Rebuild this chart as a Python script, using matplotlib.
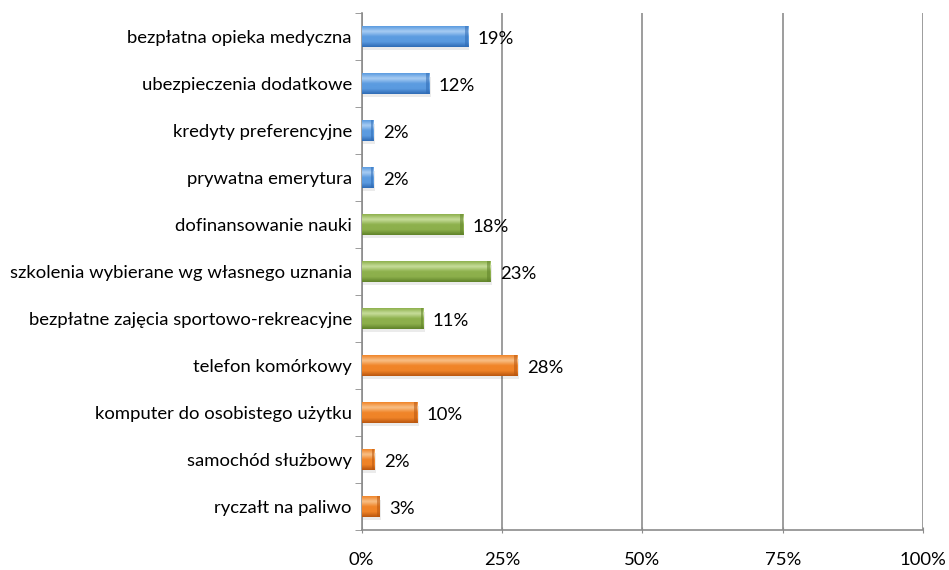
import numpy as np
import matplotlib.pyplot as plt
from matplotlib.colors import LinearSegmentedColormap

plt.rcParams['font.family'] = ['Lato', 'DejaVu Sans']

categories = [
    'bezpłatna opieka medyczna',
    'ubezpieczenia dodatkowe',
    'kredyty preferencyjne',
    'prywatna emerytura',
    'dofinansowanie nauki',
    'szkolenia wybierane wg własnego uznania',
    'bezpłatne zajęcia sportowo-rekreacyjne',
    'telefon komórkowy',
    'komputer do osobistego użytku',
    'samochód służbowy',
    'ryczałt na paliwo',
]
values = [18.9, 12.0, 2.1, 2.1, 18.0, 22.9, 11.0, 27.7, 9.9, 2.3, 3.2]
labels = ['19%', '12%', '2%', '2%', '18%', '23%', '11%', '28%', '10%', '2%', '3%']
groups = ['blue'] * 4 + ['green'] * 3 + ['orange'] * 4

palette = {
    'blue': ('#2f6bb5', '#5b9be0', '#a9cdf3'),
    'green': ('#5f8229', '#8db04c', '#c8de9c'),
    'orange': ('#b9560f', '#f08428', '#f8c189'),
}

fig = plt.figure(figsize=(9.49, 5.70), dpi=100)
ax = fig.add_axes([0.381, 0.0702, 0.592, 0.9070])

y = np.arange(len(categories))
bar_h = 0.43
fs = 13.3

for yi, v, g in zip(y, values, groups):
    dark, mid, light = palette[g]
    # soft shadow
    ax.barh(yi + 0.07, v + 0.3, height=bar_h, color='#000000', alpha=0.08,
            zorder=2, linewidth=0)
    bar = ax.barh(yi, v, height=bar_h, color=mid, zorder=3, linewidth=0)[0]
    cmap = LinearSegmentedColormap.from_list(g, [mid, light, mid, mid, dark])
    grad = np.linspace(0, 1, 64).reshape(-1, 1)
    img = ax.imshow(grad, cmap=cmap, aspect='auto', zorder=4,
                    extent=(0, v, yi + bar_h / 2, yi - bar_h / 2),
                    interpolation='bicubic')
    img.set_clip_path(bar)
    # darker end cap
    cap = min(0.5, v * 0.25)
    ax.barh(yi, cap, left=v - cap, height=bar_h,
            color=dark, alpha=0.55, zorder=5, linewidth=0)

for yi, v, lab in zip(y, values, labels):
    ax.text(v + 1.7, yi + 0.05, lab, va='center', ha='left', fontsize=fs, zorder=6)

ax.set_xlim(0, 100)
ax.set_ylim(len(categories) - 0.5, -0.5)
ax.set_xticks([0, 25, 50, 75, 100])
ax.set_xticklabels(['0%', '25%', '50%', '75%', '100%'], fontsize=fs)
ax.set_yticks(y)
ax.set_yticklabels(categories, fontsize=fs)
ax.set_yticks(np.arange(-0.5, len(categories), 1), minor=True)

ax.tick_params(axis='y', which='major', length=0, pad=7)
ax.tick_params(axis='y', which='minor', length=5, color='#8c8c8c', direction='out')
ax.tick_params(axis='x', which='major', length=5, color='#8c8c8c', direction='inout', pad=13)

ax.grid(axis='x', color='#8c8c8c', linewidth=1.2, zorder=0)
ax.set_axisbelow(True)
for s in ['top', 'right']:
    ax.spines[s].set_visible(False)
for s in ['left', 'bottom']:
    ax.spines[s].set_color('#8c8c8c')
    ax.spines[s].set_linewidth(1.2)

fig.savefig('out.png', dpi=100)
